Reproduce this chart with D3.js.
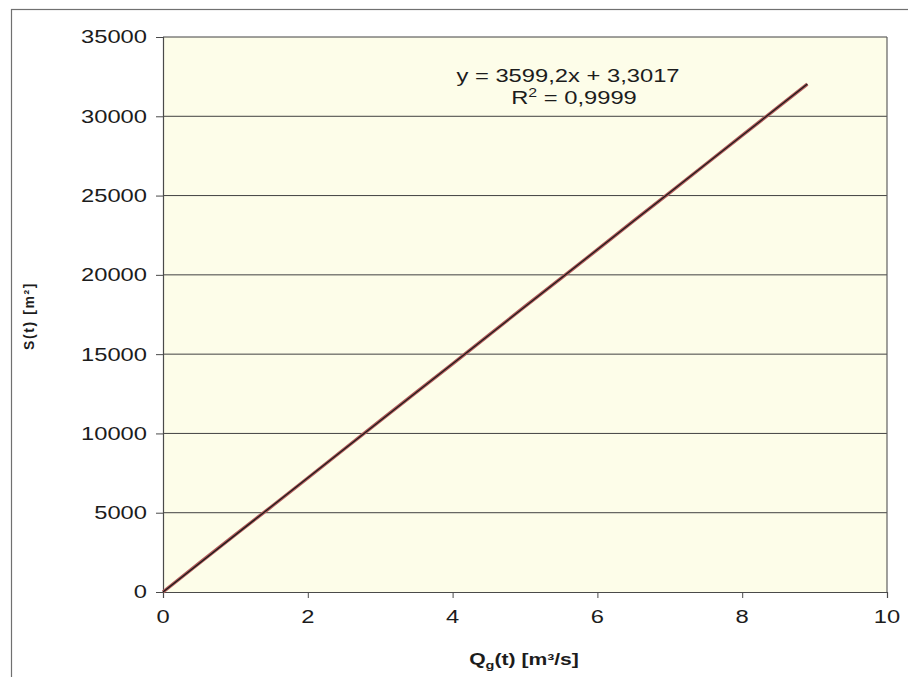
<!DOCTYPE html>
<html>
<head>
<meta charset="utf-8">
<script src="https://cdn.jsdelivr.net/npm/d3@7"></script>
<style>
  html, body { margin: 0; padding: 0; background: #ffffff; }
  svg { display: block; font-family: "Liberation Sans", Arial, sans-serif; }
</style>
</head>
<body>
<svg id="chart" width="908" height="677"></svg>
<script>
// Measured discharge Qg(t) [m³/s] and cumulative volume S(t)
const qValues = [0, 0.5, 1.0, 1.5, 2.0, 2.5, 3.0, 3.5, 4.0, 4.5, 5.0, 5.5, 6.0, 6.5, 7.0, 7.5, 8.0, 8.5, 8.9];
const sValues = [0, 1820, 3620, 5390, 7190, 9000, 10810, 12600, 14390, 16200, 18010, 19790, 21590, 23400, 25190, 26990, 28800, 30590, 32030];

// Linear trend line coefficients and labels
const trendSlope = 3599.2;
const trendIntercept = 3.3017;
const trendLabel = "y = 3599,2x + 3,3017";
const r2Label = "0,9999";

// Axis ticks
const xTicks = [0, 2, 4, 6, 8, 10];
const yTicks = [0, 5000, 10000, 15000, 20000, 25000, 30000, 35000];

// Wide lettering: glyphs are drawn horizontally stretched
const STRETCH = 1.32;
const INK = "#1c1c1c";

const svg = d3.select("#chart");
const plot = { left: 163, right: 887, top: 37, bottom: 592 };

const x = d3.scaleLinear().domain([0, 10]).range([plot.left, plot.right]);
const y = d3.scaleLinear().domain([0, 35000]).range([plot.bottom, plot.top]);

// Outer chart frame (runs past the right and bottom edges of the page)
svg.append("rect")
  .attr("x", 11.5).attr("y", 9.5)
  .attr("width", 920).attr("height", 720)
  .attr("fill", "none").attr("stroke", "#707070").attr("stroke-width", 1.2);

// Plot area background
svg.append("rect")
  .attr("x", plot.left).attr("y", plot.top)
  .attr("width", plot.right - plot.left).attr("height", plot.bottom - plot.top)
  .attr("fill", "#fdfde9");

// Horizontal gridlines
svg.append("g")
  .selectAll("line")
  .data(yTicks.filter(d => d > 0))
  .join("line")
  .attr("x1", plot.left).attr("x2", plot.right)
  .attr("y1", d => y(d)).attr("y2", d => y(d))
  .attr("stroke", "#404040").attr("stroke-width", 1);

// Plot area border (right side)
svg.append("line")
  .attr("x1", plot.right).attr("x2", plot.right)
  .attr("y1", plot.top).attr("y2", plot.bottom)
  .attr("stroke", "#606060").attr("stroke-width", 1.2);

// Axes (ticks from d3, labels drawn below with wide lettering)
const yAxis = svg.append("g")
  .attr("transform", `translate(${plot.left},0)`)
  .call(d3.axisLeft(y).tickValues(yTicks).tickSize(7).tickFormat(""));
const xAxis = svg.append("g")
  .attr("transform", `translate(0,${plot.bottom})`)
  .call(d3.axisBottom(x).tickValues(xTicks).tickSize(6).tickFormat(""));

[yAxis, xAxis].forEach(g => {
  g.select(".domain").attr("stroke", "#4a4a4a").attr("stroke-width", 1.2);
  g.selectAll(".tick line").attr("stroke", "#4a4a4a").attr("stroke-width", 1);
});

const fmt = d3.format("d");

svg.append("g")
  .selectAll("text")
  .data(yTicks)
  .join("text")
  .attr("transform", d => `translate(147,${y(d)}) scale(${STRETCH},1)`)
  .attr("dy", "0.36em")
  .attr("text-anchor", "end")
  .attr("fill", INK)
  .style("font-size", "18px")
  .text(fmt);

svg.append("g")
  .selectAll("text")
  .data(xTicks)
  .join("text")
  .attr("transform", d => `translate(${x(d)},623) scale(${STRETCH},1)`)
  .attr("text-anchor", "middle")
  .attr("fill", INK)
  .style("font-size", "18px")
  .text(fmt);

// Data series
const line = d3.line().x((d, i) => x(qValues[i])).y(d => y(d));
svg.append("path")
  .datum(sValues)
  .attr("d", line)
  .attr("fill", "none")
  .attr("stroke", "#b05a5a")
  .attr("stroke-width", 3.4);

// Linear trend line
const xEnd = qValues[qValues.length - 1];
svg.append("line")
  .attr("x1", x(0)).attr("y1", y(trendIntercept))
  .attr("x2", x(xEnd)).attr("y2", y(trendSlope * xEnd + trendIntercept))
  .attr("stroke", "#1a1a1a")
  .attr("stroke-width", 1.2);

// Trend equation and R²
const eq = svg.append("g").style("font-size", "18px").attr("fill", INK);
eq.append("text")
  .attr("transform", `translate(568,82) scale(${STRETCH},1)`)
  .attr("text-anchor", "middle")
  .text(trendLabel);
const r2 = eq.append("text")
  .attr("transform", `translate(574,104) scale(${STRETCH},1)`)
  .attr("text-anchor", "middle");
r2.append("tspan").text("R");
r2.append("tspan").attr("dy", -7).style("font-size", "12px").text("2");
r2.append("tspan").attr("dy", 7).text(" = " + r2Label);

// Axis titles
const xTitle = svg.append("text")
  .attr("transform", `translate(524,665) scale(${STRETCH},1)`)
  .attr("text-anchor", "middle")
  .style("font-size", "16px").style("font-weight", "bold")
  .attr("fill", INK);
xTitle.append("tspan").text("Q");
xTitle.append("tspan").attr("dy", 4).style("font-size", "11px").text("g");
xTitle.append("tspan").attr("dy", -4).text("(t) [m³/s]");

svg.append("text")
  .attr("transform", "translate(34,316) rotate(-90)")
  .attr("text-anchor", "middle")
  .style("font-size", "14px").style("font-weight", "bold")
  .style("letter-spacing", "1.6px")
  .attr("fill", INK)
  .text("S(t) [m²]");
</script>
</body>
</html>
